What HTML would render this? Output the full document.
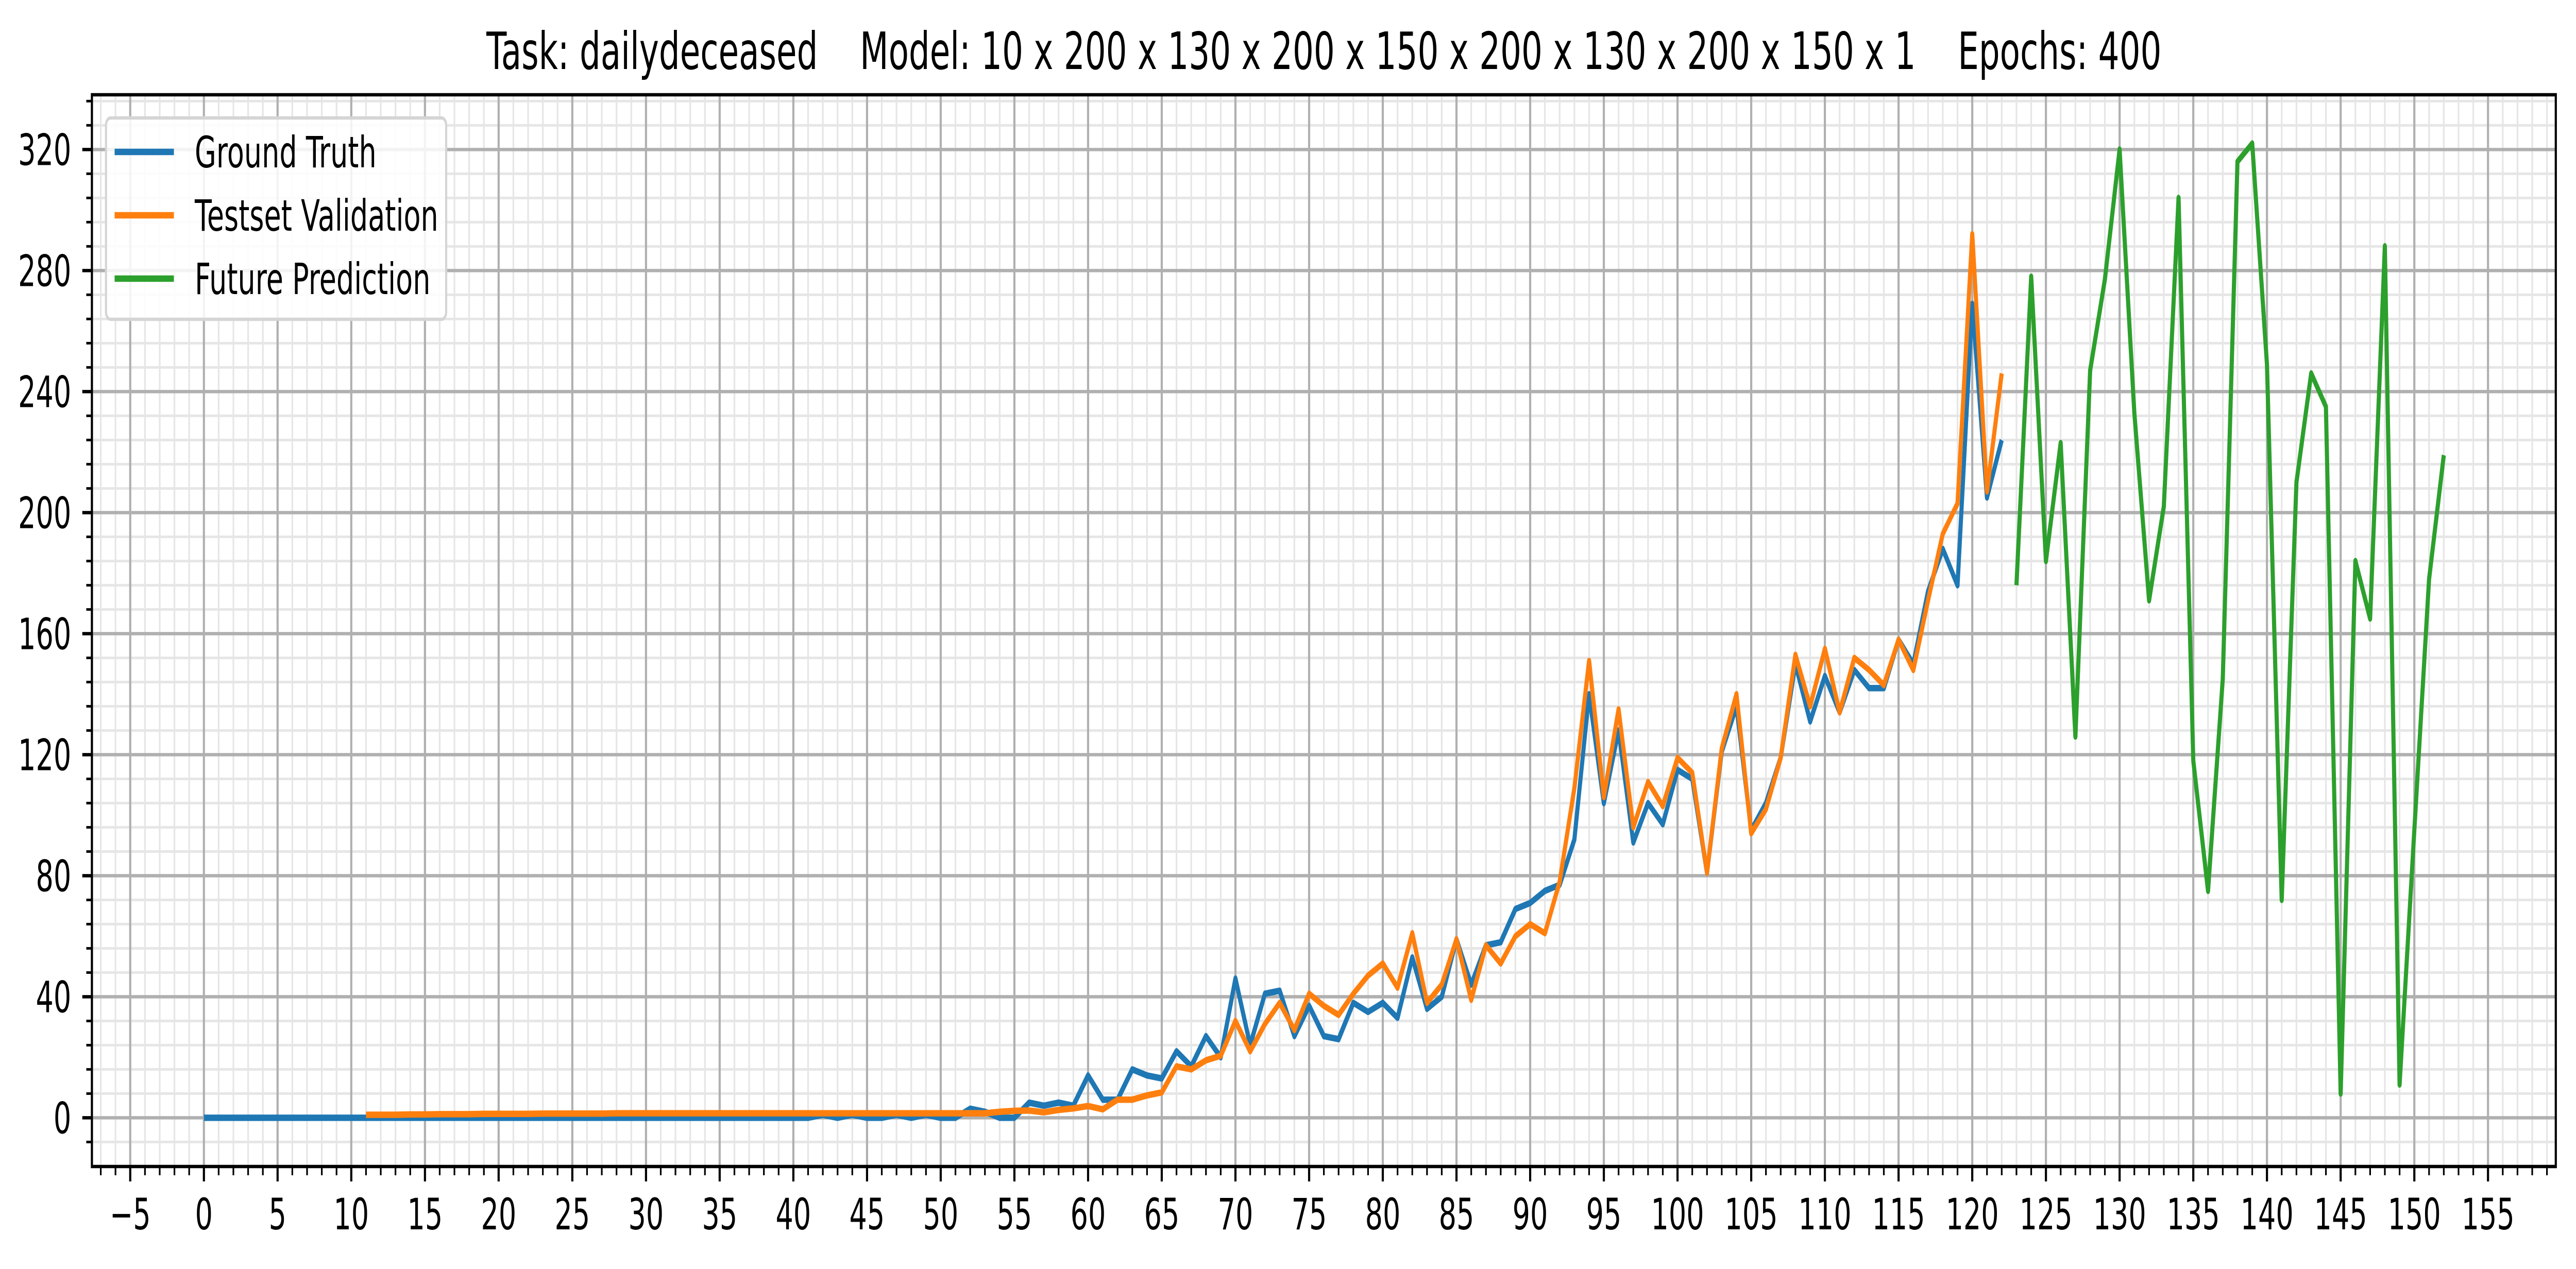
<!DOCTYPE html>
<html><head><meta charset="utf-8"><style>
html,body{margin:0;padding:0;background:#fff;width:100%;height:100%;overflow:hidden;}
svg{display:block;width:100vw;height:100vh;}
text{font-family:"DejaVu Sans","Liberation Sans",sans-serif;}
</style></head>
<body>
<svg id="chart" viewBox="0 0 7777 2464" preserveAspectRatio="none" xmlns="http://www.w3.org/2000/svg">
<rect x="0" y="0" width="7777" height="2464" fill="#fff"/>
<text x="3997" y="134" text-anchor="middle" font-size="100" fill="#000" xml:space="preserve">Task: dailydeceased    Model: 10 x 200 x 130 x 200 x 150 x 200 x 130 x 200 x 150 x 1    Epochs: 400</text>
<g id="grid-minor"></g>
<g id="grid-major"></g>
<g id="series"></g>
<g id="axes"></g>
<g id="legend"></g>
</svg>
<script>
// ---- data ----
const truthStart = 0;
const truthValues = [0,0,0,0,0,0,0,0,0,0,0,0,0,0,0,0,0,0,0,0,0,0,0,0,0,0,0,0,0,0,0,0,0,0,0,0,0,0,0,0,0,
  0,1,0,1,0,0,1,0,1,0,0,3,2,0,0,5,4,5,4,14,6,6,
  16,14,13,22,17,27,20,46,24,41,42,27,37,27,26,38,35,38,33,53,36,40,
  59,44,57,58,69,71,75,77,92,140,104,128,91,104,97,115,112,81,121,136,95,104,119,150,131,146,134,148,142,142,158,150,174,188,176,269,205,224];
const validStart = 11;
const validValues = [1,1,1,1.1,1.1,1.2,1.2,1.2,1.3,1.3,1.3,1.3,1.4,1.4,1.4,1.4,1.4,1.5,1.5,1.5,1.5,1.5,1.5,1.5,1.5,1.5,1.5,1.5,1.5,1.5,
  1.5,1.5,1.5,1.5,1.5,1.5,1.5,1.5,1.5,1.5,1.5,1.5,1.5,2,2.3,2.4,1.8,2.6,3.1,3.9,2.8,6,
  6,7.4,8.4,17,16,19,20.5,32,22,31,38,29,41,37,34,41,47,51,43,61,38,44,
  59,39,57,51,60,64,61,78,109,151,106,135,96,111,103,119,114,81,122,140,94,102,119,153,136,155,134,152,148,143,158,148,171,193,203,292,207,246];
const futureStart = 123;
const futureValues = [176,278,184,223,126,247,277,320,233,171,202,304,118,75,145,316,322,249,72,210,246,235,8,184,165,288,11,95,178,219];
const xTickLabels = [-5,0,5,10,15,20,25,30,35,40,45,50,55,60,65,70,75,80,85,90,95,100,105,110,115,120,125,130,135,140,145,150,155];
const yTickLabels = [0,40,80,120,160,200,240,280,320];
const seriesNames = ["Ground Truth","Testset Validation","Future Prediction"];
const seriesColors = ["#1f77b4","#ff7f0e","#2ca02c"];

// ---- axes ----
const L=277.5, R=7716, T=184, B=2265;
const xMin=-7.6, xMax=159.6, yMin=-16.1, yMax=338.1;
function sx(v){return L+(v-xMin)/(xMax-xMin)*(R-L);}
function sy(v){return B-(v-yMin)/(yMax-yMin)*(B-T);}
const NS="http://www.w3.org/2000/svg";
function mk(tag,attrs,parent){const e=document.createElementNS(NS,tag);for(const k in attrs)e.setAttribute(k,attrs[k]);parent.appendChild(e);return e;}

const gMin=document.getElementById('grid-minor'), gMaj=document.getElementById('grid-major');
const gAx=document.getElementById('axes'), gS=document.getElementById('series'), gL=document.getElementById('legend');

for(let v=Math.ceil(xMin); v<=xMax; v++){
  const e=mk('line',{x1:sx(v),x2:sx(v),y1:T,y2:B,stroke:'#e6e6e6','stroke-width':5},gMin);
  
  
  const t=mk('line',{x1:sx(v),x2:sx(v),y1:B,y2:B+17,stroke:'#000','stroke-width':5},gAx);
  
  
}
for(let v=-8; v<=yMax; v+=8){
  if(v<yMin) continue;
  const e=mk('line',{x1:L,x2:R,y1:sy(v),y2:sy(v),stroke:'#e6e6e6','stroke-width':5},gMin);
  
  
  const t=mk('line',{x1:L-17,x2:L,y1:sy(v),y2:sy(v),stroke:'#000','stroke-width':5},gAx);
  
  
}
xTickLabels.forEach(v=>{
  const e=mk('line',{x1:sx(v),x2:sx(v),y1:T,y2:B,stroke:'#b0b0b0','stroke-width':6.5},gMaj);
  
  
  const t=mk('line',{x1:sx(v),x2:sx(v),y1:B,y2:B+29,stroke:'#000','stroke-width':6.5},gAx);
  
  
  const lb=mk('text',{x:sx(v),y:2387,'text-anchor':'middle','font-size':84,fill:'#000'},gAx);
  lb.textContent=(v<0?'\u2212'+(-v):String(v));
  
  
});
yTickLabels.forEach(v=>{
  const e=mk('line',{x1:L,x2:R,y1:sy(v),y2:sy(v),stroke:'#b0b0b0','stroke-width':6.5},gMaj);
  
  
  const t=mk('line',{x1:L-29,x2:L,y1:sy(v),y2:sy(v),stroke:'#000','stroke-width':6.5},gAx);
  
  
  const lb=mk('text',{x:215,y:sy(v)+30,'text-anchor':'end','font-size':84,fill:'#000'},gAx);
  lb.textContent=String(v);
  
  
});
const frame=mk('rect',{x:L,y:T,width:R-L,height:B-T,fill:'none',stroke:'#000','stroke-width':6.5},gAx);



function drawSeries(start,vals,color,name){
  const pts=vals.map((v,i)=>sx(start+i).toFixed(1)+','+sy(v).toFixed(1)).join(' ');
  const p=mk('polyline',{points:pts,fill:'none',stroke:color,'stroke-width':12.5,'stroke-linejoin':'round','stroke-linecap':'butt'},gS);
  
  
}
drawSeries(truthStart,truthValues,seriesColors[0],'ground-truth-line');
drawSeries(validStart,validValues,seriesColors[1],'testset-validation-line');
drawSeries(futureStart,futureValues,seriesColors[2],'future-prediction-line');

// ---- legend ----
const box=mk('rect',{x:320,y:229,width:1027,height:391,rx:14,fill:'#fff','fill-opacity':0.85,stroke:'#d5d5d5','stroke-width':6.5},gL);


const rowsY=[295,418,541];
seriesNames.forEach((n,i)=>{
  const ln=mk('line',{x1:346,x2:525,y1:rowsY[i],y2:rowsY[i],stroke:seriesColors[i],'stroke-width':12.5},gL);
  
  
  const tx=mk('text',{x:588,y:rowsY[i]+30,'font-size':84,fill:'#000'},gL);
  tx.textContent=n;
  
  
});
</script>
</body></html>
